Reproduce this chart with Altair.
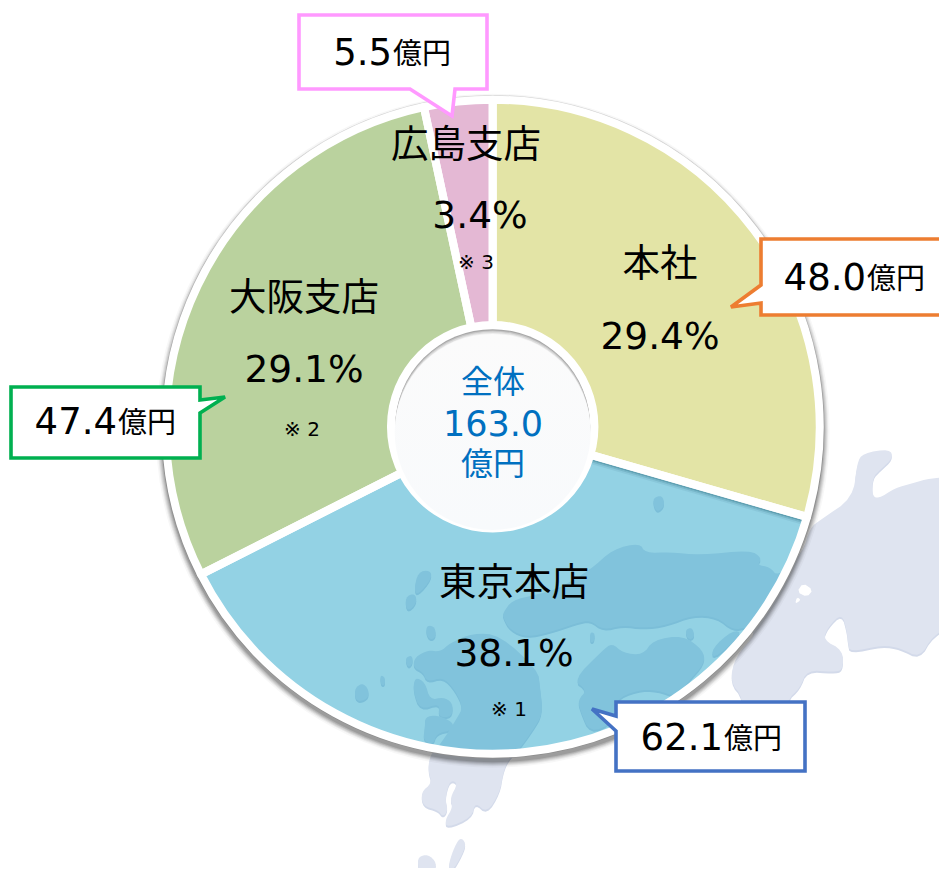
import math
import altair as alt
import pandas as pd

# ---- values ----
branches = ["本社", "東京本店", "大阪支店", "広島支店"]
amounts = [48.0, 62.1, 47.4, 5.5]
shares = ["29.4%", "38.1%", "29.1%", "3.4%"]
notes = ["※ 1", "※ 2", "※ 3"]
total_label = ["全体", "163.0", "億円"]
unit = "億円"

slice_colors = ["#E3E4A6", "rgba(15,155,195,0.45)", "#BAD29E", "#E4B8D4"]
slice_dark = ["#AFAF7E", "rgba(0,0,0,0)", "#98AF80", "#B892AC"]
box_colors = ["#ED7D31", "#4472C4", "#00B050", "#FF99FF"]

# page pixel -> plot pixel
M = 8
CX, CY = 492.7 - M, 426.7 - M
FONT = 'DejaVu Sans, "Noto Sans CJK JP"'

df = pd.DataFrame({"branch": branches, "amount": amounts, "rank": range(4)})
one = alt.Data(values=[{}])
TAU = 2 * math.pi

# decorative outlines (background map of western Japan, page pixels)
honshu = [(503,613),(512,600),(535,595),(560,588),(590,570),(613,549),(640,543),(645,553),(670,552),(700,555),
          (750,550),(762,558),(757,565),(770,567),(778,577),(803,552),(810,528),(820,520),(853,498),(857,463),
          (863,453),(890,449),(893,458),(880,470),(873,477),(872,495),(878,499),(895,488),(913,483),(930,478),
          (960,477),(960,622),(933,635),(920,658),(900,648),(883,645),(850,652),(848,643),(847,632),(842,613),
          (828,627),(823,640),(843,650),(843,670),(833,672),(807,670),(800,688),(787,700),(780,740),(745,740),
          (743,697),(730,682),(735,657),(757,632),(747,627),(733,630),(717,617),(693,615),(667,625),(643,628),
          (623,625),(603,630),(590,620),(577,623),(550,632),(527,637),(510,630),(503,617)]
shikoku = [(573,680),(603,650),(612,643),(623,653),(643,655),(653,640),(683,635),(703,650),(705,663),(687,683),
           (677,697),(657,690),(637,690),(615,700),(613,723),(590,733),(580,710),(578,700),(587,690)]
kyushu = [(415,657),(428,650),(440,652),(450,643),(473,633),(500,635),(538,670),(540,687),(543,713),(533,730),
          (520,748),(508,760),(503,773),(500,792),(487,813),(475,802),(472,817),(447,828),(445,820),(453,807),
          (450,798),(458,783),(450,780),(445,798),(448,810),(443,817),(438,810),(423,806),(421,792),(432,783),
          (428,770),(430,755),(440,745),(457,718),(463,707),(455,690),(443,677),(427,682),(423,672),(413,667)]
islands = [
    [(415,677),(413,690),(420,710),(440,703),(438,717),(452,717),(453,703),(443,697),(430,700),(425,682)],
    [(425,717),(437,715),(453,722),(453,730),(437,733),(433,745),(423,740),(425,727)],
    [(418,572),(430,570),(432,578),(418,595),(414,590)],
    [(405,597),(415,593),(417,603),(407,612)],
    [(427,625),(435,627),(436,637),(430,640),(426,633)],
    [(405,658),(412,655),(413,663),(408,668)],
    [(355,688),(362,683),(368,688),(369,697),(360,702),(355,698)],
    [(380,675),(385,677),(385,685),(381,685)],
    [(653,498),(662,495),(665,505),(658,512),(654,507)],
    [(590,632),(595,633),(594,642),(590,642)],
    [(685,630),(692,627),(695,637),(688,640)],
    [(712,648),(733,630),(743,633),(713,660)],
    [(460,837),(466,843),(463,853),(452,872),(448,867),(453,850)],
    [(418,857),(428,854),(437,863),(433,873),(422,876),(418,867)],
]
lakes = [[(803,583),(813,590),(807,597),(797,592)], [(797,597),(801,600),(795,604)]]
land = [honshu, shikoku, kyushu] + islands

# callout outlines (page pixels)
box_shapes = [
    [(761,239),(960,239),(960,315),(761,315),(761,303),(731,307),(761,285)],
    [(616,702),(805,702),(805,771),(616,771),(616,731),(592,709),(616,716)],
    [(11,387),(200,387),(200,400),(225,397),(200,413),(200,458),(11,458)],
    [(299,15),(487,15),(487,89),(455,89),(452,116),(410,89),(299,89)],
]


def soften(ring):
    out = []
    for i, (x, y) in enumerate(ring):
        nx_, ny_ = ring[(i + 1) % len(ring)]
        out.append((.75 * x + .25 * nx_, .75 * y + .25 * ny_))
        out.append((.25 * x + .75 * nx_, .25 * y + .75 * ny_))
    return out


def features(rings, dx=0, dy=0):
    out = []
    for ring in rings:
        pts = [[x - M + dx, y - M + dy] for x, y in ring]
        pts.append(pts[0])
        out.append({"type": "Feature", "properties": {},
                    "geometry": {"type": "Polygon", "coordinates": [pts]}})
    return alt.Data(values=out)


PROJ = dict(type="identity", scale=1, translate=[0, 0])


def shape(rings, fill, dx=0, dy=0, **kw):
    return alt.Chart(features(rings, dx, dy)).mark_geoshape(fill=fill, **kw).project(**PROJ)


def disc(r, inner=0, dx=0, dy=0, **kw):
    return alt.Chart(one).mark_arc(theta=0, theta2=TAU, outerRadius=r, innerRadius=inner, **kw).encode(
        x=alt.value(CX + dx), y=alt.value(CY + dy))


def pie(palette, dx=0, dy=0):
    return alt.Chart(df).mark_arc(outerRadius=327, innerRadius=85).encode(
        theta=alt.Theta("amount:Q", stack=True),
        order=alt.Order("rank:Q"),
        color=alt.Color("branch:N", scale=alt.Scale(domain=branches, range=palette), legend=None),
        x=alt.value(CX + dx), y=alt.value(CY + dy))


def label(text, x, y, size, align="center", color="#000000"):
    return alt.Chart(one).mark_text(text=text, font=FONT, fontSize=size, align=align,
                                    baseline="middle", color=color).encode(
        x=alt.value(x - M), y=alt.value(y - M))


smooth_land = [soften(soften(r)) for r in land]
layers = [shape(smooth_land, "#D3DAEA", 0, 2), shape(smooth_land, "#DFE4F0"),
          shape([soften(r) for r in lakes], "#FFFFFF")]

# soft rim shadow
layers.append(disc(331.7, 330.5, color="#E8E8E8"))
for r, op in [(331.5, .12), (332.5, .10), (333.5, .08), (334.5, .07), (335.5, .05), (337, .03)]:
    layers.append(disc(r, 326, 0, 4, color="#000000", opacity=op))

# slices: darker base + own colour slightly lower = soft top bevel
layers += [pie(slice_dark), pie(slice_colors, 1, 2.5)]

# shadow under the white gap on top of the Tokyo slice
theta = math.radians(48.0 / 163.0 * 360)
ux, uy = math.sin(theta), -math.cos(theta)
nx, ny = uy, ux
for off, w, op in [(5, 2.5, .55), (7, 2, .3), (9, 2, .12)]:
    layers.append(alt.Chart(one).mark_rule(color="#3F7F92", strokeWidth=w, opacity=op).encode(
        x=alt.value(CX + 100 * ux + off * nx), y=alt.value(CY + 100 * uy + off * ny),
        x2=alt.value(CX + 322 * ux + off * nx), y2=alt.value(CY + 322 * uy + off * ny)))

# white gaps and rim
layers.append(alt.Chart(df).mark_arc(outerRadius=327, innerRadius=85, fill="transparent", stroke="white",
                                     strokeWidth=8, strokeJoin="round").encode(
    theta=alt.Theta("amount:Q", stack=True), order=alt.Order("rank:Q"),
    x=alt.value(CX), y=alt.value(CY)))

# centre disc with inner shadow at the top only
layers.append(disc(105.7, color="#FFFFFF"))
layers.append(disc(97.5, 0, 0, 0, color="#A8A8A8"))
layers.append(disc(97.5, 0, 0, 1.2, color="#C4C4C4"))
layers.append(disc(97.5, 0, 0, 2.4, color="#DCDCDC"))
layers.append(disc(97.5, 0, 0, 3.8, color="#EFEFEF"))
layers.append(disc(98, 0, 0, 5.2, fill=alt.LinearGradient(
    gradient="linear", x1=0, y1=0, x2=0, y2=1,
    stops=[alt.GradientStop(offset=0, color="#FBFBFB"), alt.GradientStop(offset=1, color="#F8FAFC")])))

# callouts
for ring, col in zip(box_shapes, box_colors):
    layers.append(shape([ring], "#FFFFFF", stroke=col, strokeWidth=3.6, strokeJoin="miter"))

# slice labels
name_pos = [(660, 265), (514, 584), (304, 299), (466, 146)]
share_pos = [(660, 338), (514, 655), (304, 371), (480, 217)]
for t, p in zip(branches, name_pos):
    layers.append(label(t, p[0], p[1], 37.5))
for t, p in zip(shares, share_pos):
    layers.append(label(t, p[0], p[1], 37.5))
for t, p in zip(notes, [(509, 710), (302, 430), (476, 263)]):
    layers.append(label(t, p[0], p[1], 20))

# callout amounts
num_pos = [(866, 279), (723, 739), (117, 423), (392, 54)]
for a, p in zip(amounts, num_pos):
    layers.append(label(f"{a:.1f}", p[0], p[1], 37, align="right"))
    layers.append(label(unit, p[0] + 1, p[1] + 1, 29, align="left"))

# centre total
for t, y, s in zip(total_label, [383, 425, 465], [32, 35, 32]):
    layers.append(label(t, 493, y, s, color="#0070C0"))

chart = alt.layer(*layers).resolve_scale(color="independent").properties(
    width=931, height=860, padding=0,
    autosize=alt.AutoSizeParams(type="none"),
    background="#FFFFFF",
).configure_view(stroke=None)

chart.save("out.html", embed_options={"renderer": "svg", "actions": False})
